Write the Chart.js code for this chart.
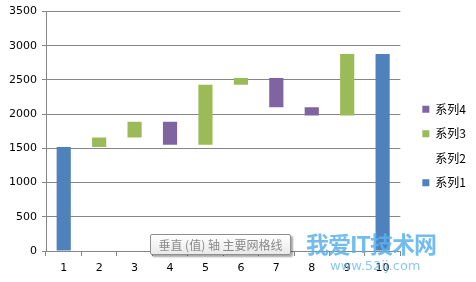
<!DOCTYPE html>
<html>
<head>
<meta charset="utf-8">
<script src="https://cdn.jsdelivr.net/npm/chart.js@4/dist/chart.umd.min.js"></script>
<style>
html,body{margin:0;padding:0;background:#fff;}
#wrap{position:relative;width:476px;height:282px;}
#tip{position:absolute;left:150px;top:234px;width:139px;height:19px;border:1px solid #8f8f8f;border-radius:2px;
background:linear-gradient(#ffffff,#e9e9e9);box-shadow:2px 2px 2px rgba(0,0,0,0.35);
font:12px "Noto Sans CJK SC",sans-serif;color:#8a8a8a;line-height:19px;text-align:center;white-space:nowrap;}
#wm1{position:absolute;left:306px;top:226px;font:bold 23px "Noto Sans CJK SC",sans-serif;color:#5ab2ec;opacity:0.85;letter-spacing:-1px;white-space:nowrap;}
#wm2{position:absolute;left:330px;top:258px;font:13px "DejaVu Sans",sans-serif;color:#6cbcf0;opacity:0.8;white-space:nowrap;}
</style>
</head>
<body>
<div id="wrap">
<canvas id="c" width="476" height="282"></canvas>
<div id="tip">垂直 (值) 轴 主要网格线</div>
<div id="wm1">我爱IT技术网</div>
<div id="wm2">www.52ij.com</div>
</div>
<script>
const categories = ['1','2','3','4','5','6','7','8','9','10'];
const seriesNames = ['系列1','系列2','系列3','系列4'];
const series1 = [1520, 0, 0, 0, 0, 0, 0, 0, 0, 2880];
const series2 = [0, 1520, 1660, 1555, 1555, 2430, 2100, 1980, 1980, 0];
const series3 = [0, 140, 230, 0, 875, 100, 0, 0, 900, 0];
const series4 = [0, 0, 0, 335, 0, 0, 430, 120, 0, 0];
const yTicks = [0, 500, 1000, 1500, 2000, 2500, 3000, 3500];

const grid = '#868686';
new Chart(document.getElementById('c'), {
  type: 'bar',
  data: {
    labels: categories,
    datasets: [
      {label: seriesNames[0], data: series1, backgroundColor: '#4f81bd', borderWidth: 0},
      {label: seriesNames[1], data: series2, backgroundColor: 'rgba(0,0,0,0)', borderColor: 'rgba(0,0,0,0)', borderWidth: 0},
      {label: seriesNames[2], data: series3, backgroundColor: '#9bbb59', borderWidth: 0},
      {label: seriesNames[3], data: series4, backgroundColor: '#8064a2', borderWidth: 0}
    ]
  },
  options: {
    responsive: false,
    animation: false,
    layout: {padding: {top: 10, left: 0, right: 0, bottom: 0}},
    datasets: {bar: {categoryPercentage: 1, barPercentage: 0.4}},
    plugins: {
      tooltip: {enabled: false},
      legend: {
        position: 'right',
        reverse: true,
        labels: {
          boxWidth: 7, boxHeight: 7, padding: 12.5, color: '#000',
          font: {family: '"Noto Sans CJK SC", sans-serif', size: 12}
        }
      }
    },
    scales: {
      x: {
        stacked: true,
        grid: {drawOnChartArea: false, drawTicks: true, tickLength: 5, color: grid, offset: true},
        border: {color: grid},
        ticks: {color: '#000', padding: 6, font: {family: '"DejaVu Sans", sans-serif', size: 11}, maxRotation: 0},
        afterFit: s => { s.height = 31; }
      },
      y: {
        stacked: true,
        min: 0, max: 3500,
        afterBuildTicks: s => { s.ticks = yTicks.map(v => ({value: v})); },
        grid: {color: grid, tickLength: 4},
        border: {color: grid},
        ticks: {color: '#000', padding: 5, font: {family: '"DejaVu Sans", sans-serif', size: 11}, callback: v => String(v)},
        afterFit: s => { s.width = 46; }
      },
      yR: {
        position: 'right',
        display: true,
        grid: {display: false, drawTicks: false},
        border: {display: false},
        ticks: {display: false},
        afterFit: s => { s.width = 9.5; }
      }
    }
  }
});
</script>
</body>
</html>
